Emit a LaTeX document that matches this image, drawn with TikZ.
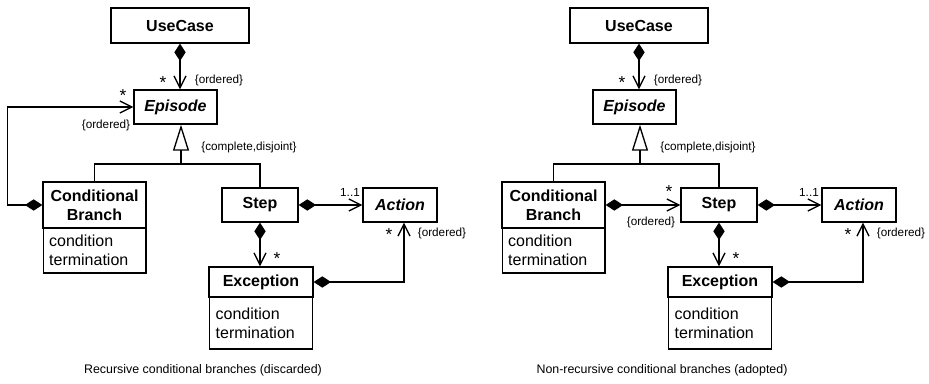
\documentclass[tikz,border=0pt]{standalone}
\usepackage{fontspec}
\setmainfont{Liberation Sans}
\usetikzlibrary{arrows.meta}

\tikzset{
  cls/.style={draw, line width=1pt, inner sep=0pt, align=center,
    font=\fontsize{12}{14}\selectfont\bfseries},
  abscls/.style={cls, font=\fontsize{12}{14}\selectfont\bfseries\itshape},
  attr/.style={draw, line width=1pt, inner xsep=4.5pt, inner ysep=0pt,
    text width=68pt, align=left, font=\fontsize{12}{14.5}\selectfont},
  lbl/.style={inner sep=0pt, font=\fontsize{8.8}{10}\selectfont},
  star/.style={inner sep=0pt, font=\fontsize{13}{13}\selectfont},
  caption/.style={inner sep=0pt, font=\fontsize{9.3}{11}\selectfont},
  conn/.style={line width=1pt},
  comp/.style={conn, {Diamond[length=13pt,width=8.5pt]}-{Straight Barb[length=9pt,width=9pt]}},
  gen/.style={conn, -{Triangle[open,length=19.5pt,width=12pt]}}
}

\begin{document}
\begin{tikzpicture}[x=0.75pt,y=-0.75pt]
    \useasboundingbox (0,0) rectangle (929,384);

    % recursive branches (left)
    \node[cls, minimum width=103.5pt, minimum height=26.25pt] (ucL) at (180,25.5) {UseCase};
    \node[abscls, minimum width=62.25pt, minimum height=25.5pt] (epL) at (175.5,107) {Episode};
    \node[cls, minimum width=77.25pt, minimum height=34.5pt] (cbL) at (94.5,205) {Conditional\\Branch};
    \node[attr, minimum height=33.75pt] (cbLattr) at (94.5,250.5) {condition\\termination};
    \node[cls, minimum width=57pt, minimum height=25.5pt] (stepL) at (260,205) {Step};
    \node[abscls, minimum width=55.5pt, minimum height=25.5pt] (actL) at (400,205) {Action};
    \node[cls, minimum width=78pt, minimum height=22.5pt] (excL) at (261,282) {Exception};
    \node[attr, minimum height=39pt] (excLattr) at (261,323) {condition\\termination};
    \coordinate (jL) at (181,164);

    \draw[comp] (ucL.south) -- (ucL.south |- epL.north);
    \draw[gen] (jL) -- (jL |- epL.south);
    \draw[conn] (cbL.north) -- (cbL.north |- jL) -- (stepL.north |- jL) -- (stepL.north);
    \draw[comp] (cbL.west) -- ++(-35,0) |- (epL.west);
    \draw[comp] (stepL.east) -- (actL.west);
    \draw[comp] (stepL.south) -- (stepL.south |- excL.north);
    \draw[comp] (excL.east) -| ([xshift=3pt]actL.south);

    \node[star] (sL1) at (163,83) {*};
    \node[lbl] (oL1) at (219,80) {\{ordered\}};
    \node[star] (sL2) at (123,96) {*};
    \node[lbl] (oL2) at (106,125) {\{ordered\}};
    \node[lbl] (cdL) at (249,147) {\{complete,disjoint\}};
    \node[lbl] (mL1) at (350,192) {1..1};
    \node[star] (sL3) at (277,259) {*};
    \node[star] (sL4) at (389,235) {*};
    \node[lbl] (oL3) at (442,233) {\{ordered\}};

    \node[caption] (capL) at (203,370) {Recursive conditional branches (discarded)};

    % non-recursive branches (right)
    \begin{scope}[xshift=459*0.75pt]
    \node[cls, minimum width=103.5pt, minimum height=26.25pt] (ucR) at (180,25.5) {UseCase};
    \node[abscls, minimum width=62.25pt, minimum height=25.5pt] (epR) at (175.5,107) {Episode};
    \node[cls, minimum width=77.25pt, minimum height=34.5pt] (cbR) at (94.5,205) {Conditional\\Branch};
    \node[attr, minimum height=33.75pt] (cbRattr) at (94.5,250.5) {condition\\termination};
    \node[cls, minimum width=57pt, minimum height=25.5pt] (stepR) at (260,205) {Step};
    \node[abscls, minimum width=55.5pt, minimum height=25.5pt] (actR) at (400,205) {Action};
    \node[cls, minimum width=78pt, minimum height=22.5pt] (excR) at (261,282) {Exception};
    \node[attr, minimum height=39pt] (excRattr) at (261,323) {condition\\termination};
    \coordinate (jR) at (181,164);

    \draw[comp] (ucR.south) -- (ucR.south |- epR.north);
    \draw[gen] (jR) -- (jR |- epR.south);
    \draw[conn] (cbR.north) -- (cbR.north |- jR) -- (stepR.north |- jR) -- (stepR.north);
    \draw[comp] (cbR.east) -- (stepR.west);
    \draw[comp] (stepR.east) -- (actR.west);
    \draw[comp] (stepR.south) -- (stepR.south |- excR.north);
    \draw[comp] (excR.east) -| ([xshift=3pt]actR.south);

    \node[star] (sR1) at (163,83) {*};
    \node[lbl] (oR1) at (219,80) {\{ordered\}};
    \node[star] (sR2) at (210,192) {*};
    \node[lbl] (oR2) at (192,222) {\{ordered\}};
    \node[lbl] (cdR) at (249,147) {\{complete,disjoint\}};
    \node[lbl] (mR1) at (350,192) {1..1};
    \node[star] (sR3) at (277,259) {*};
    \node[star] (sR4) at (389,235) {*};
    \node[lbl] (oR3) at (442,233) {\{ordered\}};

    \node[caption] (capR) at (203,370) {Non-recursive conditional branches (adopted)};
    \end{scope}
\end{tikzpicture}
\end{document}
